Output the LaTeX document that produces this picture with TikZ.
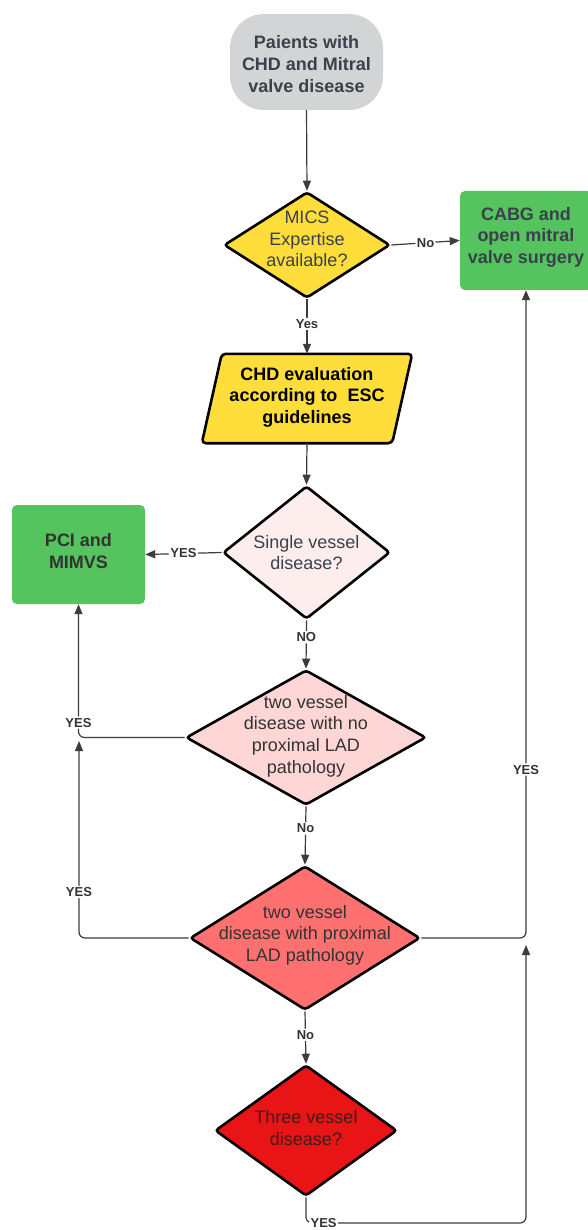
\documentclass[tikz,border=0pt]{standalone}
\usepackage{fontspec}
\setmainfont{Liberation Sans}
\usetikzlibrary{shapes.geometric,arrows.meta}
\definecolor{startgray}{HTML}{D3D4D6}
\definecolor{boxgreen}{HTML}{55C35E}
\definecolor{yel}{HTML}{FFDD3A}
\definecolor{pinkA}{HTML}{FDEDED}
\definecolor{pinkB}{HTML}{FFD6D6}
\definecolor{salmon}{HTML}{FF7070}
\definecolor{redd}{HTML}{E81416}
\definecolor{txtgray}{HTML}{3A414B}
\definecolor{linegray}{HTML}{3C3C3C}
\definecolor{labgray}{HTML}{333333}
\definecolor{darkred}{HTML}{3C1E1E}
\begin{document}
\begin{tikzpicture}[x=1pt,y=-1pt,
  dia/.style={diamond, draw=black, line width=2.6pt, rounded corners=3pt, inner sep=0pt},
  gbox/.style={rectangle, rounded corners=5pt, fill=boxgreen, inner sep=0pt},
  txt/.style={align=center, font=\fontsize{18}{21.6}\selectfont, text=txtgray},
  btxt/.style={txt, font=\bfseries\fontsize{18}{21.6}\selectfont},
  conn/.style={draw=linegray, line width=1.2pt, rounded corners=6pt, -{Triangle[length=10pt,width=8pt]}},
  lab/.style={fill=white, inner sep=1.5pt, font=\bfseries\fontsize{13}{14}\selectfont, text=labgray}]
\useasboundingbox (0,0) rectangle (587,1230);
\fill[white] (0,0) rectangle (587,1230);

% start
\node[rectangle, rounded corners=34pt, fill=startgray, minimum width=153pt, minimum height=96pt, inner sep=0pt] (start) at (306.5,62) {};
\node[btxt] (starttxt) at (306.5,64) {Paients with\\CHD and Mitral\\valve disease};

% MICS diamond
\node[dia, fill=yel, minimum width=166pt, minimum height=106pt] (mics) at (307,245) {};
\node[txt] (micstxt) at (307,239) {MICS\\Expertise\\available?};

% CABG box
\node[gbox, minimum width=132pt, minimum height=99pt] (cabg) at (526,240.5) {};
\node[btxt] (cabgtxt) at (526,237) {CABG and\\open mitral\\valve surgery};

% evaluation parallelogram
\node[minimum width=190pt, minimum height=89pt, inner sep=0pt] (eval) at (307,398.5) {};
\draw[fill=yel, draw=black, line width=2.6pt, rounded corners=4pt]
  ([xshift=10pt]eval.north west) -- ([xshift=10pt]eval.north east) --
  ([xshift=-10pt]eval.south east) -- ([xshift=-10pt]eval.south west) -- cycle;
\node[btxt, text=black] (evaltxt) at (307,397) {CHD evaluation\\according to~ ESC\\guidelines};

% single vessel
\node[dia, fill=pinkA, minimum width=167pt, minimum height=133pt] (single) at (306.5,552.5) {};
\node[txt] (singletxt) at (306.5,552.5) {Single vessel\\disease?};

% PCI box
\node[gbox, minimum width=133pt, minimum height=99pt] (pci) at (78.5,554.5) {};
\node[btxt, text=labgray] (pcitxt) at (78.5,551) {PCI and\\MIMVS};

% two vessel no LAD
\node[dia, fill=pinkB, minimum width=240pt, minimum height=135pt] (twono) at (306,737.5) {};
\node[txt, text=labgray] (twonotxt) at (306,736) {two vessel\\disease with no\\proximal LAD\\pathology};

% two vessel proximal LAD
\node[dia, fill=salmon, minimum width=230pt, minimum height=144pt] (twoprox) at (305,938) {};
\node[txt, text=labgray] (twoproxtxt) at (305,935) {two vessel\\disease with proximal\\LAD pathology};

% three vessel
\node[dia, fill=redd, minimum width=182pt, minimum height=131pt] (three) at (306,1130.5) {};
\node[txt, text=darkred] (threetxt) at (306,1128) {Three vessel\\disease?};

% junction coordinates
\coordinate (jleft) at (79,741);
\coordinate (jright) at (526,945);
\coordinate (cbot) at (526,1223);

% connectors
\draw[conn] (start.south) -- (mics.north);
\draw[conn] (mics.east) -- node[lab] {No} (cabg.west);
\draw[conn] (mics.south) -- node[lab, pos=0.45] {Yes} (eval.north);
\draw[conn] (eval.south) -- (single.north);
\draw[conn] (single.west) -- node[lab, pos=0.5] {YES} (pci.east);
\draw[conn] (single.south) -- node[lab, pos=0.35] {NO} (twono.north);
\draw[conn] (twono.west) -| node[lab, pos=0.556] {YES} (pci.south);
\draw[conn] (twono.south) -- node[lab, pos=0.38] {No} (twoprox.north);
\draw[conn] (twoprox.west) -| node[lab, pos=0.617] {YES} (jleft);
\draw[conn] (twoprox.east) -| node[lab, pos=0.63] {YES} (cabg.south);
\draw[conn] (twoprox.south) -- node[lab, pos=0.45] {No} (three.north);
\draw[conn] (three.south) |- node[lab, pos=0.54] {YES} (cbot) -- (jright);
\end{tikzpicture}
\end{document}
